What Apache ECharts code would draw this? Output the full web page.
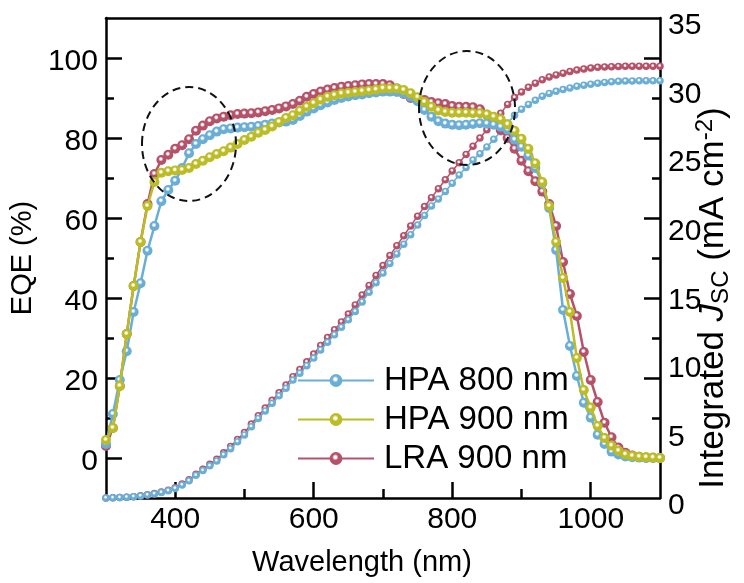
<!DOCTYPE html>
<html>
<head>
<meta charset="utf-8">
<script src="https://cdn.jsdelivr.net/npm/echarts@6/dist/echarts.min.js"></script>
<style>
html,body{margin:0;padding:0;background:#fff;}
#c{width:744px;height:583px;}
</style>
</head>
<body>
<div id="c"></div>
<script>
var wavelength = [300,310,320,330,340,350,360,370,380,390,400,410,420,430,440,450,460,470,480,490,500,510,520,530,540,550,560,570,580,590,600,610,620,630,640,650,660,670,680,690,700,710,720,730,740,750,760,770,780,790,800,810,820,830,840,850,860,870,880,890,900,910,920,930,940,950,960,970,980,990,1000,1010,1020,1030,1040,1050,1060,1070,1080,1090,1100];

var eqeHPA800 = [3.5,11,19.5,26.7,36.5,43.7,51.8,58,64.2,67,69.3,72.5,76.2,78.5,79.7,80.7,81.6,82.2,82.4,82.6,82.7,82.8,83,83.3,83.6,83.9,84.1,84.5,85.5,86.6,87.4,88.2,88.9,89.5,90,90.4,90.7,90.9,91.2,91.4,91.6,91.6,91.5,91.1,90.3,89.2,87,85.3,84.2,83.6,83.3,83.2,83.3,83.5,83.7,83.6,83.3,82.8,82.1,79.6,77.8,75.6,72.5,68.7,62.5,52,37,28,20.5,13.8,10.1,5.8,3.5,1.6,0.9,0.4,0.2,0.1,0,0,0];

var eqeHPA900 = [4.5,7.5,18,31,43,54,63,69,71.3,71.7,71.9,72,72.5,73.5,74.3,75.2,76,76.7,77.6,78.5,79.5,80.3,81.3,82,82.9,84,85,85.7,86.8,87.8,88.7,89.6,90.3,90.7,91.1,91.3,91.5,91.7,91.9,92.1,92.4,92.4,92.4,92,91.2,90.2,89,87.8,86.9,86.5,86.3,86.3,86.3,86.2,86.2,85.9,85.3,84.7,83.4,81.8,79.8,77.3,73.7,69,63,54,45,36.5,25,17,12.6,8,5,3.1,1.8,0.9,0.5,0.3,0.2,0.1,0];

var eqeLRA900 = [3,7.5,18,31,43,54,63.5,71,74.5,75.8,77.3,78.2,79.7,81.8,83.1,84.2,84.9,85.3,85.7,86,86.1,86.2,86.4,86.7,87,87.4,87.9,88.5,89.3,90.3,91,91.6,92.1,92.5,92.8,93,93.2,93.4,93.5,93.5,93.5,93.2,92.4,91,90,89.7,89.5,89,88.7,88.5,88,87.8,87.8,87.7,87.2,85.8,84,82,80,77.3,74.3,71.7,69.2,66.6,63.5,58,49,41,35.5,26.5,19.5,14,8.8,5.2,2.6,1.3,0.6,0.3,0.1,0.05,0];

var jscHPA800 = [0,0.01,0.03,0.06,0.1,0.15,0.22,0.3,0.4,0.53,0.7,0.95,1.25,1.65,2.0,2.35,2.7,3.15,3.6,4.1,4.6,5.2,5.8,6.35,6.9,7.45,8.0,8.6,9.1,9.65,10.2,10.8,11.35,11.9,12.45,13.0,13.6,14.3,15.0,15.7,16.4,17.1,17.8,18.5,19.2,19.9,20.6,21.3,21.8,22.35,22.95,23.55,24.1,24.65,25.1,25.6,26.15,26.7,27.35,27.9,28.35,28.7,29.0,29.3,29.5,29.65,29.78,29.9,30.02,30.1,30.17,30.24,30.3,30.35,30.38,30.4,30.41,30.42,30.42,30.42,30.42];

var jscLRA900 = [0,0.01,0.03,0.06,0.1,0.16,0.23,0.32,0.43,0.57,0.75,1.02,1.33,1.74,2.1,2.47,2.83,3.3,3.76,4.27,4.78,5.39,6.0,6.56,7.12,7.68,8.24,8.85,9.37,9.93,10.5,11.12,11.7,12.27,12.84,13.41,14.08,14.8,15.5,16.23,16.95,17.68,18.4,19.12,19.84,20.55,21.25,21.9,22.55,23.2,23.85,24.45,25.05,25.65,26.25,26.85,27.45,28.05,28.7,29.2,29.6,29.95,30.25,30.5,30.7,30.85,30.98,31.1,31.2,31.28,31.35,31.4,31.43,31.45,31.47,31.48,31.48,31.48,31.48,31.48,31.48];

var seriesNames = ['HPA 800 nm','HPA 900 nm','LRA 900 nm'];
var xMajorTicks = [400,600,800,1000];
var xMinorTicks = [500,700,900];
var eqeMajorTicks = [0,20,40,60,80,100];
var eqeMinorTicks = [10,30,50,70,90];

var colBlue = '#6aaed6', colYellow = '#bcbc25', colRed = '#b5526a';
var FONT = 'Liberation Sans, Arial, sans-serif';

function ball(c){
  return {type:'radial', x:0.45, y:0.4, r:0.6, colorStops:[
    {offset:0, color:'#ffffff'},{offset:0.15, color:'#ffffff'},{offset:0.42, color:c},{offset:1, color:c}]};
}
function pairs(ys){ return wavelength.map(function(w,i){return [w, ys[i]];}); }
function plain(v){ return String(v); }

var axisLineStyle = {show:true, onZero:false, lineStyle:{color:'#000', width:2.5}};
var noLine = {show:false, onZero:false};

var chart = echarts.init(document.getElementById('c'), null, {renderer:'canvas'});

function eqeSeries(name, ys, c, z){
  return {name:name, type:'line', xAxisIndex:0, yAxisIndex:0, data:pairs(ys), z:z,
    symbol:'circle', symbolSize:10, showSymbol:true,
    lineStyle:{color:c, width:2.5}, itemStyle:{color:ball(c), borderWidth:0},
    emphasis:{disabled:true}, animation:false};
}
function jscSeries(name, ys, c, z){
  return {name:name, type:'line', xAxisIndex:0, yAxisIndex:2, data:pairs(ys), z:z,
    symbol:'circle', symbolSize:7.5, showSymbol:true,
    lineStyle:{color:c, width:1.5}, itemStyle:{color:ball(c), borderWidth:0},
    emphasis:{disabled:true}, animation:false};
}

chart.setOption({
  animation:false,
  backgroundColor:'#fff',
  grid:{left:96, right:84, top:18, bottom:85, containLabel:false},
  legend:{
    data:seriesNames, orient:'vertical', left:297, top:364,
    itemWidth:76, itemHeight:16, itemGap:6, padding:0,
    textStyle:{fontFamily:FONT, fontSize:33, color:'#000', padding:[0,0,0,5]},
    selectedMode:false
  },
  xAxis:[
    {type:'value', min:300, max:1100, position:'bottom', axisLine:axisLineStyle,
     axisTick:{show:true, inside:true, length:16, customValues:xMajorTicks, lineStyle:{color:'#000', width:2.5}},
     axisLabel:{show:true, customValues:xMajorTicks, formatter:plain, fontFamily:FONT, fontSize:30, color:'#000', margin:7},
     splitLine:{show:false},
     name:'Wavelength (nm)', nameLocation:'middle', nameGap:50,
     nameTextStyle:{fontFamily:FONT, fontSize:29, color:'#000', padding:[0,42,0,0]}},
    {type:'value', min:300, max:1100, position:'bottom', axisLine:noLine,
     axisTick:{show:true, inside:true, length:9, customValues:xMinorTicks, lineStyle:{color:'#000', width:2.5}},
     axisLabel:{show:false}, splitLine:{show:false}},
    {type:'value', min:300, max:1100, position:'top', axisLine:axisLineStyle,
     axisTick:{show:false}, axisLabel:{show:false}, splitLine:{show:false}}
  ],
  yAxis:[
    {type:'value', min:-10, max:110, position:'left', axisLine:axisLineStyle,
     axisTick:{show:true, inside:true, length:16, customValues:eqeMajorTicks, lineStyle:{color:'#000', width:2.5}},
     axisLabel:{show:true, customValues:eqeMajorTicks, formatter:plain, fontFamily:FONT, fontSize:30, color:'#000', margin:8, verticalAlign:'top', lineHeight:8},
     splitLine:{show:false},
     name:'EQE (%)', nameLocation:'middle', nameGap:56, nameRotate:90,
     nameTextStyle:{fontFamily:FONT, fontSize:29, color:'#000'}},
    {type:'value', min:-10, max:110, position:'left', axisLine:noLine,
     axisTick:{show:true, inside:true, length:8, customValues:eqeMinorTicks, lineStyle:{color:'#000', width:2.5}},
     axisLabel:{show:false}, splitLine:{show:false}},
    {type:'value', min:0, max:35, interval:5, position:'right', axisLine:axisLineStyle,
     axisTick:{show:false},
     axisLabel:{show:true, formatter:plain, fontFamily:FONT, fontSize:30, color:'#000', margin:8, verticalAlign:'top', lineHeight:16},
     splitLine:{show:false}},
    {type:'value', min:-10, max:110, position:'right', axisLine:noLine,
     axisTick:{show:true, inside:true, length:16, customValues:eqeMajorTicks, lineStyle:{color:'#000', width:2.5}},
     axisLabel:{show:false}, splitLine:{show:false}},
    {type:'value', min:-10, max:110, position:'right', axisLine:noLine,
     axisTick:{show:true, inside:true, length:8, customValues:eqeMinorTicks, lineStyle:{color:'#000', width:2.5}},
     axisLabel:{show:false}, splitLine:{show:false}}
  ],
  graphic:[
    {type:'ellipse', shape:{cx:189, cy:144, rx:47, ry:57}, z:100,
     style:{fill:'none', stroke:'#111', lineWidth:2, lineDash:[8,5]}},
    {type:'ellipse', shape:{cx:467, cy:108, rx:48, ry:57}, z:100,
     style:{fill:'none', stroke:'#111', lineWidth:2, lineDash:[8,5]}},
    {type:'text', x:713, y:298, rotation:Math.PI/2, z:100,
     style:{text:'{a|Integrated }{i|J}{s|SC}{a| (mA cm}{p|-2}{a|)}', align:'center', verticalAlign:'middle',
       rich:{
         a:{fontFamily:FONT, fontSize:35, fill:'#000', lineHeight:40, verticalAlign:'middle'},
         i:{fontFamily:FONT, fontSize:35, fontStyle:'italic', fill:'#000', lineHeight:40, verticalAlign:'middle'},
         s:{fontFamily:FONT, fontSize:24, fill:'#000', lineHeight:40, verticalAlign:'bottom'},
         p:{fontFamily:FONT, fontSize:24, fill:'#000', lineHeight:40, verticalAlign:'top'}
       }}}
  ],
  series:[
    jscSeries('LRA 900 nm', jscLRA900, colRed, 2),
    jscSeries('HPA 800 nm', jscHPA800, colBlue, 3),
    eqeSeries('LRA 900 nm', eqeLRA900, colRed, 4),
    eqeSeries('HPA 800 nm', eqeHPA800, colBlue, 5),
    eqeSeries('HPA 900 nm', eqeHPA900, colYellow, 6)
  ]
});
</script>
</body>
</html>
